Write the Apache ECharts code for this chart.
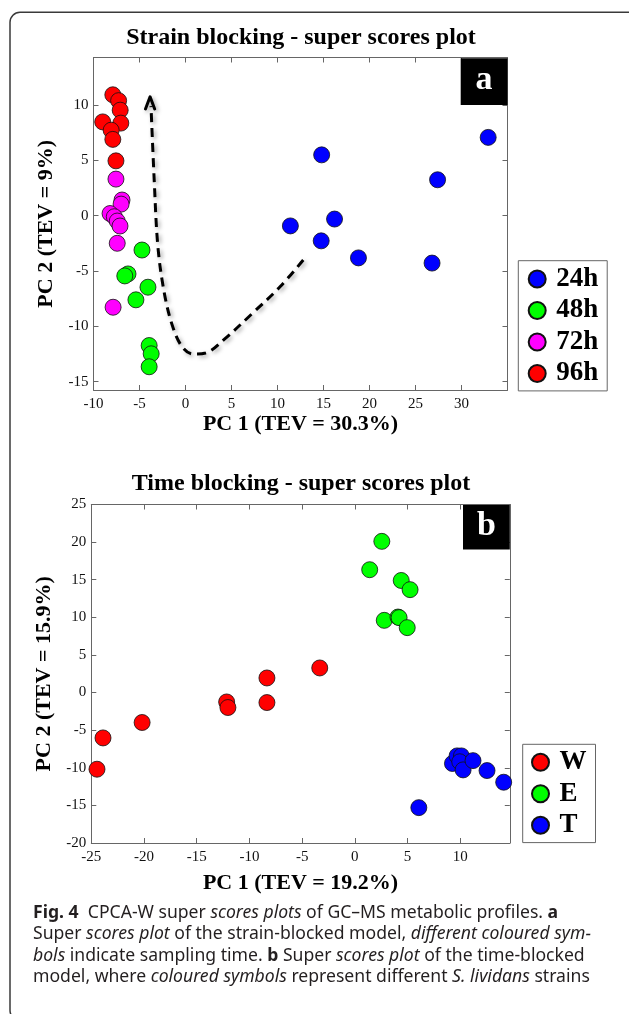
<!DOCTYPE html>
<html>
<head>
<meta charset="utf-8">
<script src="https://cdn.jsdelivr.net/npm/echarts@6/dist/echarts.min.js"></script>
<style>
html,body{margin:0;padding:0;background:#fff;}
#chart{width:629px;height:1014px;}
</style>
</head>
<body>
<div id="chart"></div>
<script>
// ---------- Data: panel a (strain blocking) ----------
var a24hX = [14.8, 27.4, 32.9, 11.4, 16.2, 14.75, 18.8, 26.8];
var a24hY = [5.5, 3.25, 7.08, -0.92, -0.3, -2.27, -3.81, -4.28];
var a48hX = [-4.73, -6.25, -6.6, -4.08, -5.39, -3.95, -3.73, -3.95];
var a48hY = [-3.1, -5.26, -5.44, -6.46, -7.6, -11.73, -12.48, -13.65];
var a72hX = [-7.56, -6.9, -7.0, -8.2, -7.74, -7.42, -7.12, -7.42, -7.87];
var a72hY = [3.31, 1.42, 1.05, 0.2, -0.09, -0.48, -0.93, -2.49, -8.27];
var a96hX = [-7.9, -7.27, -7.1, -9.0, -7.03, -8.08, -7.9, -7.56];
var a96hY = [10.93, 10.4, 9.54, 8.48, 8.37, 7.73, 6.9, 4.96];
// trajectory arrow (annotation drawn in data space)
var arrowPathX = [12.8, 10.3, 7.3, 4.3, 2.2, 0.8, -0.4, -1.4, -2.3, -3.0, -3.4, -3.75];
var arrowPathY = [-4.0, -6.4, -8.8, -11.1, -12.4, -12.5, -11.8, -10.0, -7.0, -2.8, 3.2, 9.9];
var arrowHeadX = [-4.35, -3.85, -3.35];
var arrowHeadY = [9.65, 10.75, 9.65];
var aXTicks = [-10, -5, 0, 5, 10, 15, 20, 25, 30];
var aYTicks = [-15, -10, -5, 0, 5, 10];

// ---------- Data: panel b (time blocking) ----------
var bWX = [-24.46, -23.89, -20.18, -12.16, -12.04, -8.34, -8.34, -3.33];
var bWY = [-10.19, -6.03, -3.98, -1.25, -1.99, 1.94, -1.33, 3.27];
var bEX = [2.56, 1.41, 4.4, 5.24, 2.79, 4.09, 4.2, 4.97];
var bEY = [20.1, 16.33, 14.9, 13.68, 9.6, 10.04, 9.96, 8.63];
var bTX = [9.26, 9.7, 10.11, 9.95, 10.27, 11.21, 12.54, 14.12, 6.07];
var bTY = [-9.43, -8.42, -8.42, -9.2, -10.28, -9.05, -10.37, -11.92, -15.3];
var bXTicks = [-25, -20, -15, -10, -5, 0, 5, 10];
var bYTicks = [-20, -15, -10, -5, 0, 5, 10, 15, 20, 25];

var titleA = 'Strain blocking - super scores plot';
var titleB = 'Time blocking - super scores plot';
var xNameA = 'PC 1 (TEV = 30.3%)', yNameA = 'PC 2 (TEV = 9%)';
var xNameB = 'PC 1 (TEV = 19.2%)', yNameB = 'PC 2 (TEV = 15.9%)';
var captionLines = [
  '{b|Fig. 4}  CPCA-W super {i|scores plots} of GC\u2013MS metabolic profiles. {b|a}',
  'Super {i|scores plot} of the strain-blocked model, {i|different coloured sym-}',
  '{i|bols} indicate sampling time. {b|b} Super {i|scores plot} of the time-blocked',
  'model, where {i|coloured symbols} represent different {i|S. lividans} strains'
];

function zip(xs, ys) { return xs.map(function (x, i) { return [x, ys[i]]; }); }

var SERIF = '"Liberation Serif", "Times New Roman", serif';
var SANS = '"Noto Sans", sans-serif';
var AX = '#666';
var CAP = 17.6;

function xAxisDef(grid, min, max, ticks, pos, name, gap) {
  var bottom = pos === 'bottom';
  return {
    type: 'value', gridIndex: grid, position: pos, min: min, max: max,
    name: bottom ? name : '', nameLocation: 'middle', nameGap: gap,
    nameTextStyle: {fontFamily: SERIF, fontWeight: 'bold', fontSize: 22, color: '#000'},
    axisLine: {onZero: false, lineStyle: {color: AX, width: 1}},
    axisTick: {inside: true, length: 5, customValues: ticks, lineStyle: {color: AX}},
    axisLabel: {show: bottom, customValues: ticks, margin: 7, fontFamily: SERIF, fontSize: 15, color: '#111'},
    splitLine: {show: false}
  };
}
function yAxisDef(grid, min, max, ticks, pos, name, gap) {
  var left = pos === 'left';
  return {
    type: 'value', gridIndex: grid, position: pos, min: min, max: max,
    name: left ? name : '', nameLocation: 'middle', nameGap: gap, nameRotate: 90,
    nameTextStyle: {fontFamily: SERIF, fontWeight: 'bold', fontSize: 22, color: '#000'},
    axisLine: {onZero: false, lineStyle: {color: AX, width: 1}},
    axisTick: {inside: true, length: 5, customValues: ticks, lineStyle: {color: AX}},
    axisLabel: {show: left, customValues: ticks, margin: 5, fontFamily: SERIF, fontSize: 15, color: '#111'},
    splitLine: {show: false}
  };
}

function scatter(name, xi, yi, xs, ys, color) {
  return {
    name: name, type: 'scatter', xAxisIndex: xi, yAxisIndex: yi,
    data: zip(xs, ys), symbol: 'circle', symbolSize: 16,
    itemStyle: {color: color, borderColor: '#111', borderWidth: 0.8, opacity: 1},
    emphasis: {disabled: true}
  };
}

var chart = echarts.init(document.getElementById('chart'));

var captionGraphics = captionLines.map(function (t, i) {
  return {
    type: 'text', x: 33, y: [913, 934.3, 955.7, 977][i], silent: true,
    style: {
      text: t, x: 0, y: 0, verticalAlign: 'middle', align: 'left',
      font: CAP + 'px ' + SANS, fill: '#231f20',
      rich: {
        b: {fontWeight: 'bold', fontFamily: SANS, fontSize: CAP, fill: '#231f20'},
        i: {fontStyle: 'italic', fontFamily: SANS, fontSize: CAP, fill: '#231f20'}
      }
    }
  };
});

var legendCommon = {
  orient: 'vertical', icon: 'circle', itemWidth: 28, itemHeight: 17, itemGap: 4.5,
  borderColor: '#666', borderWidth: 1, selectedMode: false,
  textStyle: {fontFamily: SERIF, fontWeight: 'bold', fontSize: 27, lineHeight: 27, color: '#000', padding: [0, 0, 0, 0]}
};

chart.setOption({
  animation: false,
  backgroundColor: '#fff',
  grid: [
    {left: 93.5, top: 57.5, width: 414, height: 332.5},
    {left: 91.3, top: 504.5, width: 418.5, height: 338.5}
  ],
  xAxis: [
    xAxisDef(0, -10, 35, aXTicks, 'bottom', xNameA, 23),
    xAxisDef(0, -10, 35, aXTicks, 'top', '', 0),
    xAxisDef(1, -25, 14.7, bXTicks, 'bottom', xNameB, 29),
    xAxisDef(1, -25, 14.7, bXTicks, 'top', '', 0)
  ],
  yAxis: [
    yAxisDef(0, -15.75, 14.3, aYTicks, 'left', yNameA, 34),
    yAxisDef(0, -15.75, 14.3, aYTicks, 'right', '', 0),
    yAxisDef(1, -20, 25, bYTicks, 'left', yNameB, 36),
    yAxisDef(1, -20, 25, bYTicks, 'right', '', 0)
  ],
  legend: [
    Object.assign({}, legendCommon, {left: 518.3, top: 260.7, padding: [4.8, 9, 3.9, 9.4], data: ['24h', '48h', '72h', '96h']}),
    Object.assign({}, legendCommon, {left: 522.7, top: 744.3, padding: [4.5, 9, 3.8, 8.3], data: ['W', 'E', 'T']})
  ],
  series: [
    {
      name: 'trajectory', type: 'line', xAxisIndex: 0, yAxisIndex: 0,
      data: zip(arrowPathX, arrowPathY), smooth: 0.35, symbol: 'none', silent: true,
      lineStyle: {color: '#000', width: 3, type: [9, 6], shadowBlur: 4, shadowColor: 'rgba(0,0,0,0.35)', shadowOffsetX: 2, shadowOffsetY: 2}
    },
    {
      name: 'arrowhead', type: 'line', xAxisIndex: 0, yAxisIndex: 0,
      data: zip(arrowHeadX, arrowHeadY), symbol: 'none', silent: true,
      lineStyle: {color: '#000', width: 3, cap: 'round', join: 'round', shadowBlur: 4, shadowColor: 'rgba(0,0,0,0.35)', shadowOffsetX: 2, shadowOffsetY: 2}
    },
    scatter('24h', 0, 0, a24hX, a24hY, '#0000ff'),
    scatter('48h', 0, 0, a48hX, a48hY, '#00ff00'),
    scatter('72h', 0, 0, a72hX, a72hY, '#ff00ff'),
    scatter('96h', 0, 0, a96hX, a96hY, '#ff0000'),
    scatter('W', 2, 2, bWX, bWY, '#ff0000'),
    scatter('E', 2, 2, bEX, bEY, '#00ff00'),
    scatter('T', 2, 2, bTX, bTY, '#0000ff')
  ],
  graphic: [
    {type: 'rect', z: -1, silent: true, shape: {x: 10, y: 12.3, width: 660, height: 1008, r: 10},
      style: {fill: 'none', stroke: '#3a3a3a', lineWidth: 1.5}},
    {type: 'text', x: 301, y: 38, silent: true,
      style: {text: titleA, align: 'center', verticalAlign: 'middle', font: 'bold 24px ' + SERIF, fill: '#000'}},
    {type: 'text', x: 301, y: 484, silent: true,
      style: {text: titleB, align: 'center', verticalAlign: 'middle', font: 'bold 24px ' + SERIF, fill: '#000'}},
    {type: 'rect', z: 10, silent: true, shape: {x: 460.7, y: 58.3, width: 46.8, height: 46.7}, style: {fill: '#000'}},
    {type: 'text', z: 11, x: 484.1, y: 80, silent: true,
      style: {text: 'a', align: 'center', verticalAlign: 'middle', font: 'bold 34px ' + SERIF, fill: '#fff'}},
    {type: 'rect', z: 10, silent: true, shape: {x: 463, y: 505, width: 46.8, height: 44.5}, style: {fill: '#000'}},
    {type: 'text', z: 11, x: 486.4, y: 526, silent: true,
      style: {text: 'b', align: 'center', verticalAlign: 'middle', font: 'bold 34px ' + SERIF, fill: '#fff'}}
  ].concat(captionGraphics)
});
</script>
</body>
</html>
